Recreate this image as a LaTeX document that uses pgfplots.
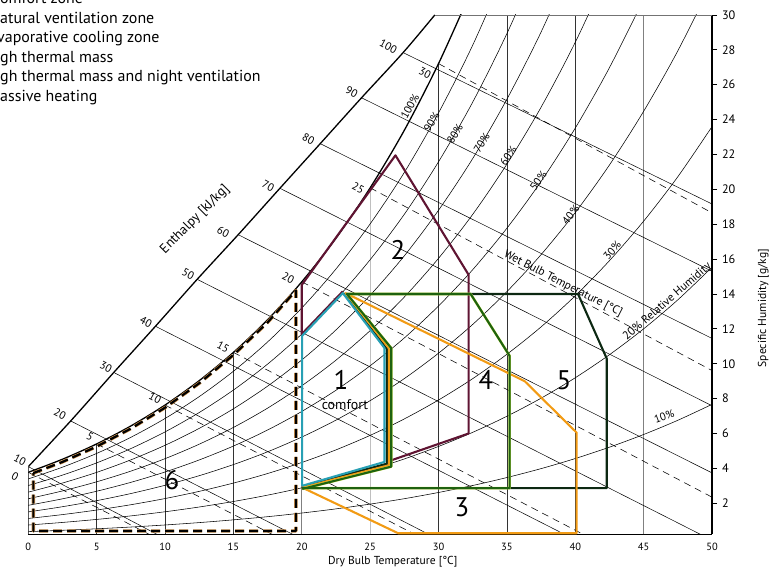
\documentclass[border=0pt]{standalone}
\usepackage{fontspec}
\setmainfont{PT Sans}
\usepackage{pgfplots}
\pgfplotsset{compat=1.18}
\definecolor{cteal}{RGB}{40,160,180}
\definecolor{cdark}{RGB}{12,40,18}
\definecolor{corange}{RGB}{242,155,20}
\definecolor{cgreen}{RGB}{30,98,15}
\definecolor{chalo}{RGB}{205,228,80}
\definecolor{cmaroon}{RGB}{95,20,50}
\definecolor{ctan}{RGB}{205,145,75}
\pgfplotsset{
  rh/.style={black, line width=0.55bp, smooth},
  vg/.style={black!80, line width=0.7bp},
  hl/.style={black, line width=0.5bp},
  wb/.style={black, line width=0.55bp, dash pattern=on 7bp off 5bp},
  zone/.style={line width=2.1bp, line join=round},
}
\tikzset{lab/.style={font=\fontsize{11}{13}\selectfont, inner sep=0pt},
         tlab/.style={font=\fontsize{11.6}{13}\selectfont, inner sep=0pt}}
\begin{document}
\begin{tikzpicture}
\begin{axis}[
  at={(0,0)}, anchor=south west,
  x=13.674bp, y=17.44bp,
  xmin=0, xmax=50, ymin=0.22, ymax=30,
  axis x line*=bottom, axis y line*=right,
  axis line style={black, line width=1.3bp},
  xtick={0,5,...,50}, ytick={2,4,...,30},
  xtick style={draw=none},
  ytick style={black, line width=0.8bp},
  tick align=outside, major tick length=5bp,
  xticklabel style={font=\fontsize{10.5}{12}\selectfont},
  yticklabel style={font=\fontsize{12.3}{14}\selectfont, xshift=1.5bp},
  /pgf/number format/assume math mode=true,
  clip mode=individual,
]
% dry bulb vertical lines
\addplot[vg] coordinates {(5,0.22)(5,5.403)};
\addplot[vg] coordinates {(10,0.22)(10,7.632)};
\addplot[vg] coordinates {(15,0.22)(15,10.65)};
\addplot[black!50, line width=0.6bp] coordinates {(20,0.22)(20,14.699)};
\addplot[black!25, line width=0.6bp] coordinates {(25,0.22)(25,20.086)};
\addplot[vg] coordinates {(30,0.22)(30,27.209)};
\addplot[vg] coordinates {(35,0.22)(35,30)};
\addplot[vg] coordinates {(40,0.22)(40,30)};
\addplot[black!50, line width=0.6bp] coordinates {(45,0.22)(45,30)};
% relative humidity curves
\addplot[rh] coordinates {(0,3.395)(2.5,4.069)(5,4.858)(7.5,5.782)(10,6.860)(12.5,8.115)(15,9.569)(17.5,11.249)(20,13.198)(22.5,15.434)(25,18.019)(27.5,20.971)(30,24.382)(32.5,28.267)(35,32.736)};
\addplot[rh] coordinates {(0,3.016)(2.5,3.614)(5,4.315)(7.5,5.135)(10,6.091)(12.5,7.203)(15,8.491)(17.5,9.979)(20,11.704)(22.5,13.682)(25,15.966)(27.5,18.571)(30,21.579)(32.5,25.000)(35,28.929)(37.5,33.386)};
\addplot[rh] coordinates {(0,2.638)(2.5,3.160)(5,3.772)(7.5,4.488)(10,5.323)(12.5,6.294)(15,7.417)(17.5,8.715)(20,10.217)(22.5,11.939)(25,13.925)(27.5,16.189)(30,18.800)(32.5,21.766)(35,25.167)(37.5,29.018)(40,33.423)};
\addplot[rh] coordinates {(0,2.259)(2.5,2.707)(5,3.230)(7.5,3.843)(10,4.557)(12.5,5.387)(15,6.347)(17.5,7.455)(20,8.737)(22.5,10.205)(25,11.898)(27.5,13.825)(30,16.045)(32.5,18.563)(35,21.447)(37.5,24.708)(40,28.430)(42.5,32.656)};
\addplot[rh] coordinates {(0,1.882)(2.5,2.254)(5,2.690)(7.5,3.199)(10,3.793)(12.5,4.483)(15,5.280)(17.5,6.200)(20,7.264)(22.5,8.481)(25,9.884)(27.5,11.479)(30,13.313)(32.5,15.393)(35,17.771)(37.5,20.455)(40,23.512)(42.5,26.977)(45,30.896)};
\addplot[rh] coordinates {(0,1.504)(2.5,1.802)(5,2.150)(7.5,2.557)(10,3.031)(12.5,3.581)(15,4.217)(17.5,4.950)(20,5.797)(22.5,6.766)(25,7.882)(27.5,9.149)(30,10.605)(32.5,12.254)(35,14.136)(37.5,16.257)(40,18.669)(42.5,21.396)(45,24.474)(47.5,27.941)(50,31.863)};
\addplot[rh] coordinates {(0,1.128)(2.5,1.350)(5,1.611)(7.5,1.916)(10,2.270)(12.5,2.682)(15,3.157)(17.5,3.705)(20,4.338)(22.5,5.061)(25,5.893)(27.5,6.837)(30,7.920)(32.5,9.145)(35,10.542)(37.5,12.113)(40,13.897)(42.5,15.910)(45,18.177)(47.5,20.723)(50,23.595)};
\addplot[rh] coordinates {(0,0.751)(2.5,0.900)(5,1.073)(7.5,1.276)(10,1.512)(12.5,1.785)(15,2.101)(17.5,2.465)(20,2.885)(22.5,3.365)(25,3.916)(27.5,4.541)(30,5.258)(32.5,6.067)(35,6.989)(37.5,8.024)(40,9.196)(42.5,10.517)(45,12.001)(47.5,13.664)(50,15.534)};
\addplot[rh] coordinates {(0,0.375)(2.5,0.449)(5,0.536)(7.5,0.637)(10,0.755)(12.5,0.891)(15,1.049)(17.5,1.230)(20,1.439)(22.5,1.678)(25,1.952)(27.5,2.262)(30,2.618)(32.5,3.019)(35,3.475)(37.5,3.986)(40,4.564)(42.5,5.215)(45,5.943)(47.5,6.758)(50,7.671)};
% enthalpy lines
\addplot[hl] coordinates {(0,4.10)(9.94,0)};
\addplot[hl] coordinates {(3.1,6.72)(19.88,0)};
\addplot[hl] coordinates {(6.25,9.5)(29.82,0)};
\addplot[hl] coordinates {(9.3,12.15)(39.76,0)};
\addplot[hl] coordinates {(12.35,14.84)(49.70,0)};
\addplot[hl] coordinates {(15.35,17.4)(50,3.74)};
\addplot[hl] coordinates {(18.4,20.06)(50,7.59)};
\addplot[hl] coordinates {(21.35,22.62)(50,11.45)};
\addplot[hl] coordinates {(24.37,25.25)(50,15.30)};
\addplot[hl] coordinates {(27.41,27.84)(50,19.16)};
% wet bulb lines
\addplot[wb] coordinates {(0,3.775)(9.385,0)};
\addplot[wb] coordinates {(5,5.403)(18.37,0)};
\addplot[wb] coordinates {(10,7.632)(28.80,0)};
\addplot[wb] coordinates {(15,10.65)(41.11,0)};
\addplot[wb] coordinates {(20,14.699)(50,2.35)};
\addplot[wb] coordinates {(25,20.086)(50,9.61)};
\addplot[wb] coordinates {(30,27.209)(50,18.65)};
% saturation curve and enthalpy scale curve
\addplot[black, line width=1.3bp, smooth] coordinates {(0,3.775)(2.5,4.524)(5,5.403)(7.5,6.432)(10,7.632)(12.5,9.030)(15,10.650)(17.5,12.525)(20,14.699)(22.5,17.197)(25,20.086)(27.5,23.389)(30,27.209)(32.5,31.567)};
\addplot[black, line width=1.3bp, smooth] coordinates {(0,4.10)(3.1,6.72)(6.25,9.5)(9.3,12.15)(12.35,14.84)(15.35,17.4)(18.4,20.06)(21.35,22.62)(24.37,25.25)(27.41,27.84)(29.73,30)};
% frame pieces
\addplot[black!55, line width=0.8bp] coordinates {(29.73,30)(50,30)};
\addplot[black, line width=1.3bp] coordinates {(0,0.22)(0,4.10)};
% zone 2 natural ventilation
\addplot[zone, cmaroon] coordinates {(26.5,4.45)(32.2,6.0)(32.2,15.1)(26.85,21.95)(20.0,14.52)(20.0,11.7)(23.0,14.15)};
% zone 5
\addplot[zone, cdark] coordinates {(20.03,2.87)(42.3,2.87)(42.3,10.3)(40.2,14.0)(23.1,14.0)(26.22,10.85)(26.22,4.27)(20.03,2.95)};
% zone 3 evaporative cooling
\addplot[zone, corange] coordinates {(20.03,2.9)(27.05,0.28)(40.1,0.28)(40.1,6.05)(36.3,9.0)(23.2,14.05)(26.38,10.88)(26.38,4.18)(20.03,2.9)};
% zone 4 high thermal mass
\addplot[zone, chalo, line width=2.6bp] coordinates {(20.03,2.87)(35.2,2.87)(35.2,10.45)(32.35,14.0)(23.3,14.0)(26.54,10.9)(26.54,4.1)(20.03,2.82)};
\addplot[zone, cgreen] coordinates {(20.03,2.87)(35.2,2.87)(35.2,10.45)(32.35,14.0)(23.3,14.0)(26.54,10.9)(26.54,4.1)(20.03,2.82)};
% zone 1 comfort
\addplot[zone, cteal] coordinates {(20.03,3.0)(20.03,11.6)(23.0,14.05)(26.05,10.9)(26.05,4.37)(20.03,3.0)};
% zone 6 passive heating
\addplot[ctan, line width=3.4bp, dash pattern=on 9bp off 5bp, line join=round] coordinates {(0.37,3.73)(2.5,4.37)(5,5.25)(7.5,6.28)(10,7.48)(12.5,8.88)(15,10.5)(17.5,12.37)(19.57,14.2)(19.57,0.41)(0.37,0.41)(0.37,3.73)};
\addplot[black, line width=2.2bp, dash pattern=on 9bp off 5bp, line join=round] coordinates {(0.37,3.73)(2.5,4.37)(5,5.25)(7.5,6.28)(10,7.48)(12.5,8.88)(15,10.5)(17.5,12.37)(19.57,14.2)(19.57,0.41)(0.37,0.41)(0.37,3.73)};
% zone numbers
\node[font=\fontsize{27}{30}\selectfont] at (axis cs:22.87,9.07) {1};
\node[font=\fontsize{14}{16}\selectfont] at (axis cs:23.16,7.64) {comfort};
\node[font=\fontsize{27}{30}\selectfont] at (axis cs:27.04,16.52) {2};
\node[font=\fontsize{27}{30}\selectfont] at (axis cs:31.72,1.79) {3};
\node[font=\fontsize{27}{30}\selectfont] at (axis cs:33.47,9.07) {4};
\node[font=\fontsize{27}{30}\selectfont] at (axis cs:39.17,9.07) {5};
\node[font=\fontsize{27}{30}\selectfont] at (axis cs:10.51,3.34) {6};
% wet bulb labels
\node[lab, rotate=-28] at (axis cs:-0.97,3.53) {0};
\node[lab, rotate=-28] at (axis cs:4.51,5.82) {5};
\node[lab, rotate=-28] at (axis cs:9.27,8.02) {10};
\node[lab, rotate=-28] at (axis cs:14.26,10.95) {15};
\node[lab, rotate=-28] at (axis cs:19.01,14.9) {20};
\node[lab, rotate=-28] at (axis cs:24.13,20.06) {25};
\node[lab, rotate=-28] at (axis cs:29.01,26.69) {30};
% enthalpy labels
\node[lab, rotate=-28] at (axis cs:-0.61,4.48) {10};
\node[lab, rotate=-28] at (axis cs:2.32,7.12) {20};
\node[lab, rotate=-28] at (axis cs:5.68,9.83) {30};
\node[lab, rotate=-28] at (axis cs:8.61,12.41) {40};
\node[lab, rotate=-28] at (axis cs:11.7,15.15) {50};
\node[lab, rotate=-28] at (axis cs:14.26,17.57) {60};
\node[lab, rotate=-28] at (axis cs:17.55,20.19) {70};
\node[lab, rotate=-28] at (axis cs:20.48,22.87) {80};
\node[lab, rotate=-28] at (axis cs:23.65,25.6) {90};
\node[lab, rotate=-28] at (axis cs:26.33,28.18) {100};
% relative humidity labels
\node[lab, rotate=61] at (axis cs:27.91,24.75) {100\%};
\node[lab, rotate=60] at (axis cs:29.5,23.88) {90\%};
\node[lab, rotate=59] at (axis cs:31.2,23.2) {80\%};
\node[lab, rotate=58] at (axis cs:33.16,22.64) {70\%};
\node[lab, rotate=56] at (axis cs:35.1,21.9) {60\%};
\node[lab, rotate=54] at (axis cs:37.3,20.5) {50\%};
\node[lab, rotate=52] at (axis cs:39.67,18.53) {40\%};
\node[lab, rotate=49] at (axis cs:42.7,16.5) {30\%};
\node[tlab, rotate=41] at (axis cs:46.74,13.56) {20\% Relative Humidity};
\node[lab, rotate=20] at (axis cs:46.5,6.97) {10\%};
% other chart labels
\node[font=\fontsize{13.5}{15}\selectfont, inner sep=0pt, rotate=45] at (axis cs:12.19,18.26) {Enthalpy [kJ/kg]};
\node[tlab, rotate=-27] at (axis cs:39.1,14.58) {Wet Bulb Temperature [°C]};
\end{axis}
% axis titles
\node[font=\fontsize{11.6}{13}\selectfont] at (364.4bp,-27.4bp) {Dry Bulb Temperature [°C]};
\node[font=\fontsize{11.6}{13}\selectfont, rotate=90, inner sep=0pt] at (735bp,226bp) {Specific Humidity [g/kg]};
% legend (cut by the page edge)
\begin{scope}[every node/.style={anchor=base west, inner sep=0pt, font=\fontsize{16}{18}\selectfont}]
\node at (-28.3bp,530.8bp) {\llap{C}omfort zone};
\node at (-28.3bp,511.0bp) {\llap{N}atural ventilation zone};
\node at (-31.3bp,491.6bp) {\llap{E}vaporative cooling zone};
\node at (-28.3bp,472.0bp) {\llap{Hi}gh thermal mass};
\node at (-28.3bp,452.3bp) {\llap{Hi}gh thermal mass and night ventilation};
\node at (-28.3bp,432.6bp) {\llap{P}assive heating};
\end{scope}
\pgfresetboundingbox
\path[use as bounding box] (-28.3bp,-32.7bp) rectangle (742.7bp,534.3bp);
\end{tikzpicture}
\end{document}
